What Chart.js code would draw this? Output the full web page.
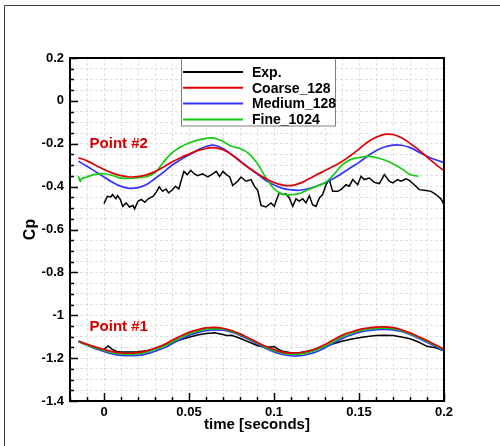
<!DOCTYPE html>
<html>
<head>
<meta charset="utf-8">
<script src="https://cdn.jsdelivr.net/npm/chart.js@4.4.1/dist/chart.umd.min.js"></script>
<style>
html, body { margin: 0; padding: 0; background: #fff; }
#wrap { width: 500px; height: 446px; position: relative; }
</style>
</head>
<body>
<div id="wrap"><canvas id="cpChart" width="500" height="446"></canvas></div>
<script>
// Tiempo común de las simulaciones (s)
const simTime = [-0.015, -0.01, -0.005, 0, 0.005, 0.01, 0.015, 0.02, 0.025, 0.03,
  0.035, 0.04, 0.045, 0.05, 0.055, 0.06, 0.065, 0.07, 0.075, 0.08,
  0.085, 0.09, 0.095, 0.1, 0.105, 0.11, 0.115, 0.12, 0.125, 0.13,
  0.135, 0.14, 0.145, 0.15, 0.155, 0.16, 0.165, 0.17, 0.175, 0.18,
  0.185, 0.19, 0.195, 0.2];

// Point #2
const coarseP2 = [-0.265, -0.28, -0.30, -0.32, -0.337, -0.349, -0.355, -0.353, -0.345, -0.330,
  -0.308, -0.285, -0.265, -0.248, -0.232, -0.222, -0.218, -0.228, -0.250, -0.282,
  -0.312, -0.338, -0.362, -0.381, -0.393, -0.395, -0.385, -0.366, -0.345, -0.325,
  -0.305, -0.283, -0.255, -0.225, -0.193, -0.170, -0.156, -0.157, -0.172, -0.198,
  -0.228, -0.262, -0.295, -0.326];
const mediumP2 = [-0.282, -0.305, -0.33, -0.355, -0.38, -0.399, -0.408, -0.405, -0.39, -0.362,
  -0.332, -0.300, -0.275, -0.252, -0.230, -0.213, -0.207, -0.222, -0.250, -0.280,
  -0.310, -0.340, -0.370, -0.392, -0.408, -0.415, -0.417, -0.410, -0.398, -0.382,
  -0.362, -0.338, -0.312, -0.287, -0.258, -0.233, -0.215, -0.206, -0.207, -0.218,
  -0.238, -0.258, -0.275, -0.288];
const fineTimeP2 = [-0.015, -0.014, -0.013, -0.01, -0.005, 0, 0.005, 0.01, 0.015, 0.02,
  0.025, 0.03, 0.035, 0.04, 0.045, 0.05, 0.055, 0.06, 0.065, 0.07,
  0.075, 0.08, 0.085, 0.09, 0.095, 0.1, 0.105, 0.11, 0.115, 0.12,
  0.125, 0.13, 0.135, 0.14, 0.145, 0.15, 0.155, 0.16, 0.165, 0.17,
  0.175, 0.18, 0.185];
const fineP2 = [-0.352, -0.375, -0.362, -0.355, -0.343, -0.340, -0.348, -0.360, -0.362, -0.358,
  -0.354, -0.335, -0.285, -0.243, -0.215, -0.197, -0.183, -0.175, -0.174, -0.190,
  -0.212, -0.222, -0.245, -0.290, -0.355, -0.410, -0.435, -0.438, -0.432, -0.415,
  -0.398, -0.382, -0.345, -0.300, -0.274, -0.264, -0.259, -0.264, -0.276, -0.293,
  -0.316, -0.343, -0.352];
const expTimeP2 = [0, 0.002, 0.004, 0.005, 0.007, 0.008, 0.0096, 0.011, 0.013, 0.015,
  0.017, 0.018, 0.02, 0.022, 0.024, 0.026, 0.029, 0.031, 0.0325, 0.0345,
  0.0365, 0.038, 0.040, 0.042, 0.044, 0.047, 0.049, 0.051, 0.053, 0.055,
  0.058, 0.061, 0.064, 0.066, 0.068, 0.070, 0.072, 0.074, 0.0757, 0.0786,
  0.0806, 0.0835, 0.0865, 0.0884, 0.0904, 0.0924, 0.0953, 0.0982, 0.1002, 0.1012,
  0.1031, 0.1051, 0.1071, 0.109, 0.111, 0.1129, 0.1149, 0.1169, 0.1188, 0.1208,
  0.1227, 0.1247, 0.1267, 0.1286, 0.1306, 0.1325, 0.1345, 0.1375, 0.1394, 0.1424,
  0.1443, 0.1463, 0.1492, 0.1512, 0.1531, 0.1561, 0.159, 0.162, 0.1649, 0.1678,
  0.1698, 0.1727, 0.1747, 0.1776, 0.1796, 0.1825, 0.1855, 0.1884, 0.1924, 0.1953,
  0.1982, 0.2];
const expP2 = [-0.479, -0.445, -0.448, -0.437, -0.456, -0.442, -0.460, -0.492, -0.476, -0.495,
  -0.488, -0.504, -0.468, -0.460, -0.473, -0.457, -0.445, -0.422, -0.401, -0.422,
  -0.411, -0.429, -0.417, -0.398, -0.411, -0.329, -0.344, -0.324, -0.340, -0.349,
  -0.340, -0.355, -0.340, -0.329, -0.352, -0.329, -0.344, -0.355, -0.395, -0.375,
  -0.355, -0.375, -0.367, -0.398, -0.417, -0.488, -0.495, -0.476, -0.492, -0.468,
  -0.429, -0.437, -0.434, -0.453, -0.492, -0.457, -0.468, -0.457, -0.476, -0.442,
  -0.484, -0.492, -0.453, -0.437, -0.391, -0.367, -0.422, -0.422, -0.414, -0.391,
  -0.398, -0.367, -0.391, -0.352, -0.367, -0.360, -0.380, -0.386, -0.344, -0.375,
  -0.383, -0.367, -0.375, -0.364, -0.371, -0.391, -0.414, -0.417, -0.422, -0.437,
  -0.457, -0.484];

// Point #1
const coarseP1 = [-1.120, -1.135, -1.148, -1.160, -1.170, -1.176, -1.177, -1.174, -1.166, -1.153,
  -1.138, -1.117, -1.097, -1.080, -1.068, -1.059, -1.057, -1.061, -1.071, -1.087,
  -1.106, -1.126, -1.145, -1.160, -1.172, -1.177, -1.175, -1.167, -1.155, -1.136,
  -1.114, -1.094, -1.079, -1.067, -1.060, -1.055, -1.054, -1.058, -1.068, -1.082,
  -1.100, -1.118, -1.138, -1.158];
const fineP1 = [-1.122, -1.138, -1.152, -1.164, -1.175, -1.181, -1.183, -1.180, -1.172, -1.160,
  -1.145, -1.125, -1.104, -1.087, -1.074, -1.065, -1.062, -1.065, -1.075, -1.090,
  -1.109, -1.129, -1.149, -1.165, -1.177, -1.183, -1.182, -1.174, -1.162, -1.144,
  -1.122, -1.101, -1.085, -1.073, -1.065, -1.061, -1.060, -1.063, -1.072, -1.086,
  -1.103, -1.121, -1.141, -1.161];
const mediumP1 = [-1.124, -1.140, -1.156, -1.169, -1.180, -1.187, -1.189, -1.187, -1.180, -1.168,
  -1.153, -1.133, -1.112, -1.094, -1.081, -1.072, -1.068, -1.070, -1.079, -1.094,
  -1.113, -1.134, -1.154, -1.171, -1.183, -1.189, -1.189, -1.182, -1.170, -1.152,
  -1.130, -1.109, -1.093, -1.080, -1.072, -1.067, -1.066, -1.068, -1.076, -1.090,
  -1.107, -1.126, -1.146, -1.166];
const expTimeP1 = [0, 0.0025, 0.005, 0.0075, 0.01, 0.015, 0.02, 0.025, 0.03, 0.035,
  0.04, 0.045, 0.05, 0.055, 0.06, 0.065, 0.07, 0.072, 0.075, 0.08,
  0.085, 0.09, 0.095, 0.1, 0.103, 0.105, 0.11, 0.115, 0.12, 0.125,
  0.13, 0.135, 0.14, 0.145, 0.15, 0.155, 0.16, 0.165, 0.17, 0.175,
  0.18, 0.185, 0.19, 0.195, 0.2];
const expP1 = [-1.158, -1.143, -1.160, -1.169, -1.171, -1.172, -1.170, -1.165, -1.157, -1.142,
  -1.127, -1.115, -1.103, -1.092, -1.085, -1.082, -1.090, -1.094, -1.093, -1.107,
  -1.124, -1.141, -1.150, -1.146, -1.160, -1.168, -1.175, -1.175, -1.168, -1.158,
  -1.146, -1.133, -1.121, -1.112, -1.105, -1.099, -1.094, -1.093, -1.095, -1.101,
  -1.110, -1.125, -1.145, -1.152, -1.166];

const legendLabels = ['Exp.', 'Coarse_128', 'Medium_128', 'Fine_1024'];
const legendColors = ['#000000', '#e00000', '#3333ff', '#11cc11'];
const yMajorTicks = [0.2, 0, -0.2, -0.4, -0.6, -0.8, -1, -1.2, -1.4];
const xMajorTicks = [0, 0.05, 0.1, 0.15, 0.2];
const pointLabels = [{ text: 'Point #2', t: -0.0085, cp: -0.219 }, { text: 'Point #1', t: -0.0085, cp: -1.075 }];

const FONT = "'Liberation Sans', Arial, Helvetica, sans-serif";
Chart.defaults.font.family = FONT;
Chart.defaults.color = '#000';

const pts = (ts, vs) => ts.map((t, i) => ({ x: t, y: vs[i] }));
const esMultiplo = (v, paso) => Math.abs(v / paso - Math.round(v / paso)) < 1e-6;

function serie(data, color, width, tension) {
  return { data, borderColor: color, backgroundColor: color, borderWidth: width,
    pointRadius: 0, tension, fill: false };
}

// Marco, ticks hacia adentro, leyenda y etiquetas de los puntos
const tecplotPlugin = {
  id: 'tecplot',
  beforeDraw(chart) {
    const ctx = chart.ctx;
    ctx.save();
    ctx.strokeStyle = '#3a3a3a';
    ctx.lineWidth = 1;
    ctx.beginPath();
    ctx.moveTo(4.5, 446); ctx.lineTo(4.5, 5.5); ctx.lineTo(500, 5.5);
    ctx.stroke();
    ctx.restore();
  },
  afterDatasetsDraw(chart) {
    const { ctx, chartArea: a, scales: { x, y } } = chart;
    ctx.save();
    // ticks menores y mayores
    ctx.strokeStyle = '#000';
    ctx.lineWidth = 1.5;
    ctx.beginPath();
    for (let i = -28; i <= 4; i++) {
      const v = i * 0.05;
      const py = Math.round(y.getPixelForValue(v)) + 0.5;
      const len = esMultiplo(v, 0.2) ? 8 : 4;
      ctx.moveTo(a.left, py); ctx.lineTo(a.left + len, py);
    }
    for (let i = -2; i <= 20; i++) {
      const v = i * 0.01;
      const px = Math.round(x.getPixelForValue(v)) + 0.5;
      const len = esMultiplo(v, 0.05) ? 8 : 4;
      ctx.moveTo(px, a.bottom); ctx.lineTo(px, a.bottom - len);
    }
    ctx.stroke();

    // leyenda
    const lx = 181.5, ly = a.top, lw = 154, lh = 68;
    ctx.fillStyle = '#fff';
    ctx.fillRect(lx, ly, lw, lh);
    ctx.strokeStyle = '#808080';
    ctx.lineWidth = 1;
    ctx.strokeRect(lx, ly, lw, lh);
    ctx.font = 'bold 14px ' + FONT;
    ctx.textBaseline = 'middle';
    ctx.textAlign = 'left';
    legendLabels.forEach((lab, i) => {
      const ry = 72 + i * 15.8;
      ctx.strokeStyle = legendColors[i];
      ctx.lineWidth = 2;
      ctx.beginPath();
      ctx.moveTo(183, ry); ctx.lineTo(243, ry);
      ctx.stroke();
      ctx.fillStyle = '#000';
      ctx.fillText(lab, 252, ry + 1);
    });

    // etiquetas Point #1 / #2
    ctx.font = 'bold 15px ' + FONT;
    ctx.fillStyle = '#d40000';
    ctx.textBaseline = 'alphabetic';
    pointLabels.forEach(p => {
      ctx.fillText(p.text, x.getPixelForValue(p.t), y.getPixelForValue(p.cp));
    });

    // marco del gráfico
    ctx.strokeStyle = '#000';
    ctx.lineWidth = 2;
    ctx.strokeRect(a.left, a.top, a.right - a.left, a.bottom - a.top);
    ctx.restore();
  }
};

new Chart(document.getElementById('cpChart').getContext('2d'), {
  type: 'line',
  data: {
    datasets: [
      serie(pts(simTime, coarseP2), legendColors[1], 1.7, 0.4),
      serie(pts(fineTimeP2, fineP2), legendColors[3], 1.7, 0.4),
      serie(pts(simTime, mediumP2), legendColors[2], 1.7, 0.4),
      serie(pts(expTimeP2, expP2), legendColors[0], 1.5, 0),
      serie(pts(simTime, coarseP1), legendColors[1], 1.7, 0.4),
      serie(pts(simTime, fineP1), legendColors[3], 1.7, 0.4),
      serie(pts(simTime, mediumP1), legendColors[2], 1.7, 0.4),
      serie(pts(expTimeP1, expP1), legendColors[0], 1.5, 0)
    ]
  },
  options: {
    responsive: false,
    animation: false,
    devicePixelRatio: 1,
    layout: { padding: { left: 0, top: 58, right: 56, bottom: 0 } },
    plugins: { legend: { display: false }, tooltip: { enabled: false } },
    scales: {
      x: {
        type: 'linear',
        min: -0.02, max: 0.2,
        afterFit: s => { s.height = 45; },
        afterBuildTicks: s => {
          const t = [];
          for (let i = -2; i <= 20; i++) t.push({ value: +(i * 0.01).toFixed(2) });
          s.ticks = t;
        },
        ticks: {
          autoSkip: false, maxRotation: 0, padding: 4,
          font: { size: 13, weight: 'bold' },
          callback: v => (xMajorTicks.some(m => Math.abs(m - v) < 1e-6) ? String(+v.toFixed(2)) : '')
        },
        grid: { color: '#e0e0e0', lineWidth: 1, drawTicks: false },
        border: { display: false, dash: [3, 2] },
        title: { display: true, text: 'time [seconds]', font: { size: 15, weight: 'bold' },
          padding: { top: 0, bottom: 12 } }
      },
      y: {
        type: 'linear',
        min: -1.4, max: 0.2,
        afterFit: s => { s.width = 70; },
        afterBuildTicks: s => {
          const t = [];
          for (let i = -28; i <= 4; i++) t.push({ value: +(i * 0.05).toFixed(2) });
          s.ticks = t;
        },
        ticks: {
          autoSkip: false, padding: 6,
          font: { size: 13, weight: 'bold' },
          callback: v => (yMajorTicks.some(m => Math.abs(m - v) < 1e-6) ? String(+v.toFixed(1)) : '')
        },
        grid: { color: '#e0e0e0', lineWidth: 1, drawTicks: false },
        border: { display: false, dash: [3, 2] },
        title: { display: true, text: 'Cp', font: { size: 16, weight: 'bold' },
          padding: { top: 21, bottom: 0 } }
      }
    }
  },
  plugins: [tecplotPlugin]
});
</script>
</body>
</html>
